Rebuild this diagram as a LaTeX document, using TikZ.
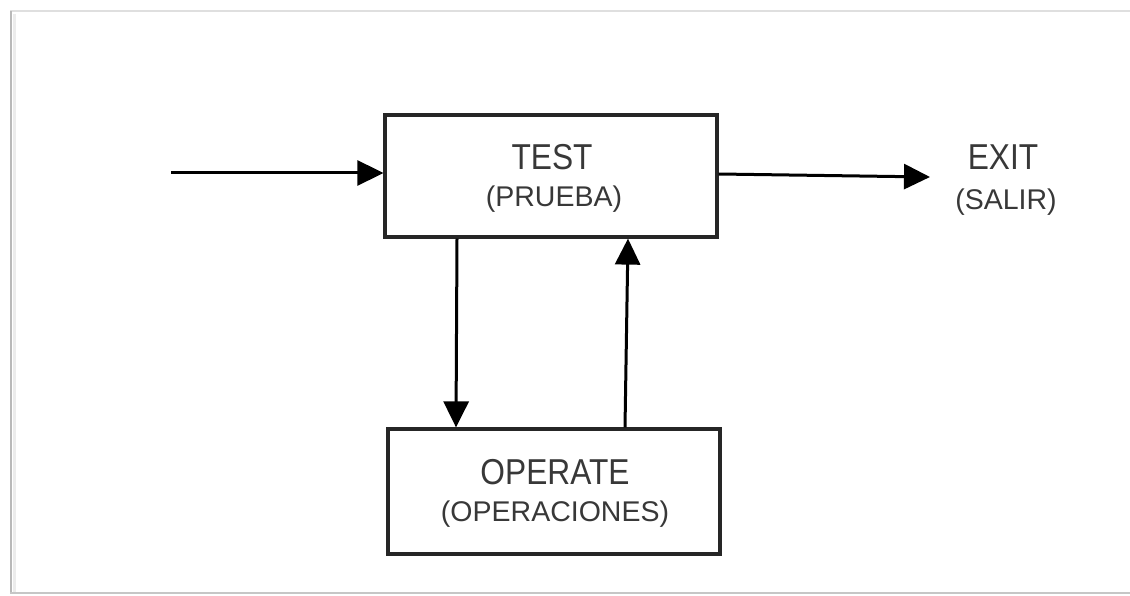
\documentclass[tikz,border=0pt]{standalone}
\usepackage{fontspec}
\setmainfont{Liberation Sans}
\usetikzlibrary{arrows.meta}

% main label: tall, slightly narrow capitals; sub label: plain
\newcommand{\mainlbl}[1]{\scalebox{0.88}[1]{\fontsize{36}{36}\selectfont #1}}
\newcommand{\sublbl}[1]{{\fontsize{28.5}{28.5}\selectfont #1}}

\tikzset{
  blockbox/.style={draw=black!85, line width=3.2pt, fill=white,
    minimum width=332pt, inner sep=0pt},
  lbl/.style={anchor=base, inner sep=0pt, text=black!78},
  flow/.style={draw=black, line width=3pt,
    -{Triangle[length=26pt,width=25pt]}}
}

\begin{document}
\begin{tikzpicture}[x=1pt, y=-1pt]
  \useasboundingbox (0,0) rectangle (1130,596);

  % page frame
  \draw[gray!25, line width=2pt] (10,11) -- (1140,11);
  \draw[gray!55, line width=1.6pt] (11,11) -- (11,593);
  \draw[gray!15, line width=3pt] (14,14) -- (14,592);
  \draw[gray!45, line width=2.2pt] (10,593) -- (1140,593);

  % blocks
  \node[blockbox, minimum height=122pt] (test) at (551,176) {};
  \node[blockbox, minimum height=125pt] (oper) at (554,491.5) {};

  % block labels
  \node[lbl] (testA) at (552,170) {\mainlbl{TEST}};
  \node[lbl] (testB) at (554,207) {\sublbl{(PRUEBA)}};
  \node[lbl] (operA) at (555,484) {\mainlbl{OPERATE}};
  \node[lbl] (operB) at (555,521) {\sublbl{(OPERACIONES)}};

  % exit label
  \node[lbl] (exitA) at (1003,170) {\mainlbl{EXIT}};
  \node[lbl] (exitB) at (1006,210) {\sublbl{(SALIR)}};

  % loose ends of the flow
  \coordinate (entry) at (171,173);
  \coordinate (exitpt) at (930,177);

  % connectors
  \draw[flow] (entry) -- (entry -| test.west);
  \draw[flow] ([yshift=2pt]test.east) -- (exitpt);
  \draw[flow] ([xshift=-94pt]test.south) -- ([xshift=-98pt]oper.north);
  \draw[flow] ([xshift=71pt]oper.north) -- ([xshift=77pt]test.south);
\end{tikzpicture}
\end{document}
